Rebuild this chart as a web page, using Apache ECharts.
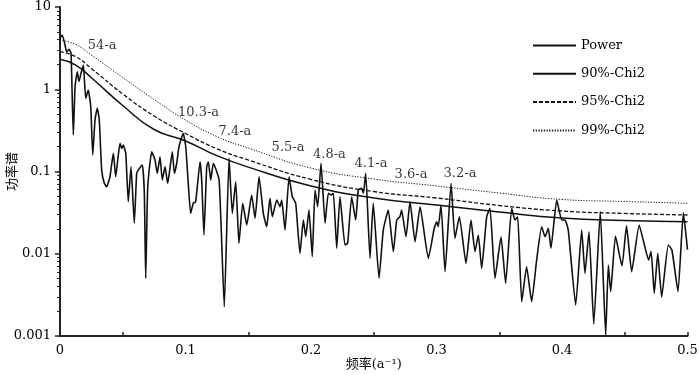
<!DOCTYPE html>
<html>
<head>
<meta charset="utf-8">
<script src="https://cdn.jsdelivr.net/npm/echarts@6/dist/echarts.min.js"></script>
<style>
  html, body { margin: 0; padding: 0; background: #fff; }
  #chart { width: 700px; height: 375px; }
</style>
</head>
<body>
<div id="chart"></div>
<script>
// 功率谱 (频率 a^-1)
var freqPower = [0, 0.0018, 0.0040, 0.0053, 0.0072, 0.0088, 0.0106, 0.0120, 0.0138, 0.0151,
	0.0167, 0.0186, 0.0205, 0.0225, 0.0245, 0.0261, 0.0279, 0.0297, 0.0313, 0.0332,
	0.0353, 0.0372, 0.0398, 0.0425, 0.0444, 0.0460, 0.0478, 0.0492, 0.0504, 0.0524,
	0.0544, 0.0566, 0.0592, 0.0611, 0.0624, 0.0656, 0.0672, 0.0683, 0.0699, 0.0731,
	0.0757, 0.0775, 0.0797, 0.0815, 0.0837, 0.0858, 0.0871, 0.0895, 0.0911, 0.0930,
	0.0948, 0.0982, 0.1002, 0.1022, 0.1041, 0.1062, 0.1081, 0.1116, 0.1129, 0.1147,
	0.1169, 0.1182, 0.1201, 0.1222, 0.1268, 0.1309, 0.1347, 0.1373, 0.1400, 0.1426,
	0.1456, 0.1488, 0.1527, 0.1554, 0.1586, 0.1620, 0.1647, 0.1673, 0.1692, 0.1727,
	0.1753, 0.1767, 0.1793, 0.1825, 0.1851, 0.1878, 0.1912, 0.1939, 0.1958, 0.1984,
	0.2010, 0.2032, 0.2053, 0.2080, 0.2112, 0.2138, 0.2159, 0.2178, 0.2205, 0.2231,
	0.2271, 0.2292, 0.2324, 0.2356, 0.2377, 0.2404, 0.2417, 0.2436, 0.2470, 0.2496,
	0.2542, 0.2576, 0.2616, 0.2656, 0.2683, 0.2709, 0.2722, 0.2757, 0.2789, 0.2829,
	0.2869, 0.2935, 0.2982, 0.3002, 0.3014, 0.3036, 0.3068, 0.3116, 0.3147, 0.3182,
	0.3235, 0.3275, 0.3307, 0.3333, 0.3360, 0.3400, 0.3426, 0.3466, 0.3514, 0.3551,
	0.3599, 0.3625, 0.3647, 0.3679, 0.3718, 0.3758, 0.3798, 0.3838, 0.3865, 0.3891,
	0.3912, 0.3958, 0.3998, 0.4024, 0.4050, 0.4109, 0.4157, 0.4183, 0.4215, 0.4253,
	0.4305, 0.4348, 0.4369, 0.4388, 0.4426, 0.4478, 0.4514, 0.4555, 0.4615, 0.4653,
	0.4690, 0.4710, 0.4735, 0.4763, 0.4794, 0.4847, 0.4876, 0.4924, 0.4967, 0.5];
var power = [4.16, 4.57, 3.45, 2.86, 3.06, 2.74, 0.278, 1.07, 1.63, 1.24,
	1.56, 1.97, 0.776, 0.979, 0.614, 0.159, 0.423, 0.587, 0.423, 0.104,
	0.0719, 0.0653, 0.0864, 0.1665, 0.0864, 0.138, 0.220, 0.191, 0.210, 0.1665,
	0.0429, 0.1144, 0.0235, 0.0951, 0.104, 0.120, 0.0543, 0.00503, 0.0653, 0.174,
	0.138, 0.0951, 0.151, 0.0788, 0.1144, 0.0719, 0.0951, 0.174, 0.0951, 0.126,
	0.200, 0.291, 0.200, 0.0719, 0.0310, 0.0411, 0.0429, 0.1316, 0.0788, 0.0169,
	0.1144, 0.1316, 0.0788, 0.126, 0.0788, 0.00227, 0.1447, 0.0310, 0.0752, 0.0134,
	0.0411, 0.0224, 0.0518, 0.0270, 0.0864, 0.0310, 0.0213, 0.0472, 0.0282, 0.0450,
	0.0373, 0.0450, 0.0194, 0.0864, 0.0494, 0.0411, 0.0101, 0.0257, 0.0161, 0.0340,
	0.0092, 0.0596, 0.0373, 0.126, 0.0235, 0.0543, 0.0518, 0.0543, 0.0117, 0.0494,
	0.0128, 0.0134, 0.0494, 0.0257, 0.0596, 0.0625, 0.0543, 0.0951, 0.0088, 0.0411,
	0.00503, 0.0194, 0.0340, 0.0106, 0.0257, 0.0282, 0.0340, 0.0161, 0.0429, 0.0140,
	0.0373, 0.0088, 0.0204, 0.0245, 0.0213, 0.0392, 0.00605, 0.0719, 0.0154, 0.0282,
	0.00766, 0.0257, 0.0106, 0.0169, 0.00665, 0.0282, 0.0357, 0.00503, 0.0161, 0.00437,
	0.0357, 0.0257, 0.0282, 0.00261, 0.00696, 0.00261, 0.00839, 0.0213, 0.0161, 0.0204,
	0.0117, 0.0450, 0.0257, 0.0257, 0.0194, 0.00238, 0.0194, 0.00578, 0.0185, 0.00140,
	0.0325, 0.00103, 0.00730, 0.00346, 0.0164, 0.00710, 0.0218, 0.00605, 0.0224, 0.0135,
	0.00839, 0.0106, 0.00330, 0.0101, 0.00298, 0.0128, 0.0111, 0.00346, 0.0316, 0.0112];

// 红噪声检验线
var freqChi = [0, 0.0125, 0.025, 0.05, 0.075, 0.1, 0.125, 0.15, 0.2, 0.25, 0.3, 0.35, 0.4, 0.45, 0.5];
var chi90 = [2.31, 1.97, 1.38, 0.634, 0.324, 0.235, 0.156, 0.113, 0.0667, 0.0476, 0.0392, 0.0322, 0.0272, 0.0254, 0.0245];
var chi95 = [2.86, 2.49, 1.79, 0.876, 0.473, 0.290, 0.189, 0.138, 0.080, 0.0571, 0.0476, 0.0386, 0.0331, 0.0309, 0.0296];
var chi99 = [3.97, 3.50, 2.61, 1.39, 0.750, 0.423, 0.266, 0.193, 0.110, 0.0811, 0.0667, 0.0548, 0.0457, 0.0432, 0.0411];

// 周期标注
var periodLabels = ['54-a', '10.3-a', '7.4-a', '5.5-a', '4.8-a', '4.1-a', '3.6-a', '3.2-a'];
var periodFreq = [0.0335, 0.1104, 0.1394, 0.1817, 0.2147, 0.2478, 0.2797, 0.3187];
var periodPower = [3.36, 0.521, 0.302, 0.193, 0.159, 0.123, 0.0907, 0.0946];

var xLabelValues = [0, 0.1, 0.2, 0.3, 0.4, 0.5];
var xTickValues = [0.05, 0.15, 0.25, 0.35, 0.45, 0.5];
var yMinorTicks = [0.002, 0.003, 0.004, 0.005, 0.006, 0.007, 0.008, 0.009,
	0.02, 0.03, 0.04, 0.05, 0.06, 0.07, 0.08, 0.09,
	0.2, 0.3, 0.4, 0.5, 0.6, 0.7, 0.8, 0.9,
	2, 3, 4, 5, 6, 7, 8, 9];

var SERIF = "'DejaVu Serif', 'Noto Sans CJK SC', serif";
var INK = '#000';

function zip(xs, ys) {
	return xs.map(function (x, i) { return [x, ys[i]]; });
}

var myChart = echarts.init(document.getElementById('chart'), null, { renderer: 'canvas' });

myChart.setOption({
	animation: false,
	backgroundColor: '#fff',
	textStyle: { fontFamily: SERIF, color: INK },
	grid: { left: 60, right: 12.5, top: 7, bottom: 39, containLabel: false, outerBoundsMode: 'none' },
	legend: {
		orient: 'vertical',
		left: 532,
		top: 39,
		padding: 0,
		itemWidth: 43,
		itemHeight: 14,
		itemGap: 15.3,
		data: ['Power', '90%-Chi2', '95%-Chi2', '99%-Chi2'],
		itemStyle: { opacity: 0 },
		textStyle: { fontFamily: SERIF, fontSize: 13, color: INK }
	},
	xAxis: {
		type: 'value',
		min: 0,
		max: 0.5,
		interval: 0.05,
		name: '频率(a⁻¹)',
		nameLocation: 'middle',
		nameGap: 22,
		nameMoveOverlap: false,
		nameTextStyle: { fontFamily: SERIF, fontSize: 13, color: INK },
		axisLine: { lineStyle: { color: '#222', width: 2 } },
		axisTick: { inside: true, length: 4, customValues: xTickValues, lineStyle: { color: '#222', width: 1.5 } },
		axisLabel: {
			customValues: xLabelValues,
			margin: 8,
			fontSize: 13,
			color: INK,
			fontFamily: SERIF,
			formatter: function (v) { return String(+v.toFixed(1)); }
		},
		splitLine: { show: false }
	},
	yAxis: [{
		type: 'log',
		logBase: 10,
		min: 0.001,
		max: 10,
		name: '功率谱',
		nameLocation: 'middle',
		nameGap: 42,
		nameMoveOverlap: false,
		nameTextStyle: { fontFamily: "'Noto Sans CJK SC'", fontSize: 13, color: INK },
		axisLine: { show: true, lineStyle: { color: '#222', width: 2 } },
		axisTick: { show: true, inside: false, length: 5, lineStyle: { color: '#222', width: 1.5 } },
		axisLabel: {
			margin: 9,
			fontSize: 13,
			color: INK,
			fontFamily: SERIF,
			formatter: function (v) { return String(+v.toPrecision(3)); }
		},
		splitLine: { show: false }
	}, {
		type: 'log',
		logBase: 10,
		min: 0.001,
		max: 10,
		position: 'left',
		axisLine: { show: false },
		axisTick: { show: true, inside: false, length: 3, customValues: yMinorTicks, lineStyle: { color: '#222', width: 1 } },
		axisLabel: { show: false },
		splitLine: { show: false }
	}],
	series: [
		{
			name: 'Power',
			type: 'line',
			data: zip(freqPower, power),
			symbol: 'none',
			smooth: 0.15,
			lineStyle: { color: '#111', width: 1.6 },
			itemStyle: { color: '#111' }
		},
		{
			name: '90%-Chi2',
			type: 'line',
			data: zip(freqChi, chi90),
			symbol: 'none',
			smooth: true,
			lineStyle: { color: '#111', width: 1.5 },
			itemStyle: { color: '#111' }
		},
		{
			name: '95%-Chi2',
			type: 'line',
			data: zip(freqChi, chi95),
			symbol: 'none',
			smooth: true,
			lineStyle: { color: '#111', width: 1.3, type: [4, 2] },
			itemStyle: { color: '#111' }
		},
		{
			name: '99%-Chi2',
			type: 'line',
			data: zip(freqChi, chi99),
			symbol: 'none',
			smooth: true,
			lineStyle: { color: '#111', width: 1, type: [1.2, 1.5] },
			itemStyle: { color: '#111' }
		},
		{
			name: 'period',
			type: 'scatter',
			symbolSize: 0,
			silent: true,
			data: periodLabels.map(function (t, i) { return [periodFreq[i], periodPower[i], t]; }),
			label: {
				show: true,
				position: 'inside',
				fontFamily: SERIF,
				fontSize: 13,
				color: INK,
				formatter: function (p) { return p.data[2]; }
			}
		}
	]
});
</script>
</body>
</html>
